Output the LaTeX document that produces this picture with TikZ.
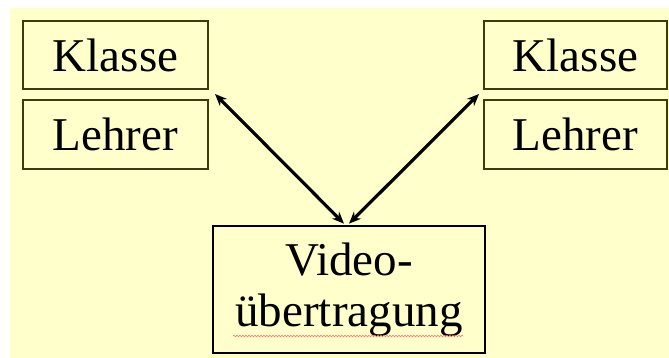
\documentclass[tikz,border=0pt]{standalone}
\usepackage{fontspec}
\setmainfont{Liberation Serif}
\usetikzlibrary{arrows.meta,decorations.pathmorphing}
\definecolor{bgyellow}{RGB}{255,255,204}
\definecolor{boxline}{RGB}{62,58,14}
\tikzset{
  box/.style={draw=boxline, line width=2.7pt, fill=bgyellow, inner sep=0pt,
    font=\fontsize{47}{51}\selectfont, align=center},
  link/.style={line width=3.2pt, {Stealth[length=12pt,width=10pt]}-{Stealth[length=12pt,width=10pt]}}
}
\begin{document}
\begin{tikzpicture}[x=1pt,y=-1pt]
\useasboundingbox (0,0) rectangle (669,358);
\fill[white] (0,0) rectangle (669,358);
\fill[bgyellow] (10,8) rectangle (669,358);
\node[box, minimum width=185pt, minimum height=68pt] (k1) at (115.5,55) {Klasse};
\node[box, minimum width=185pt, minimum height=69pt] (l1) at (115.5,134.5) {Lehrer};
\node[box, minimum width=183pt, minimum height=68pt] (k2) at (575.5,55) {Klasse};
\node[box, minimum width=183pt, minimum height=69pt] (l2) at (575.5,134.5) {Lehrer};
\node[box, draw=black, minimum width=272pt, minimum height=127pt] (v) at (349,289.5) {Video-\\übertragung};
\coordinate (aL) at (215,94);
\coordinate (aR) at (479,94);
\draw[link] (aL) -- ([xshift=-5pt,yshift=1pt]v.north);
\draw[link] (aR) -- ([xshift=0pt,yshift=1pt]v.north);
\draw[red!55, line width=0.6pt, decorate, decoration={snake, amplitude=0.8pt, segment length=3pt}] (233,336) -- (463,336);
\end{tikzpicture}
\end{document}
